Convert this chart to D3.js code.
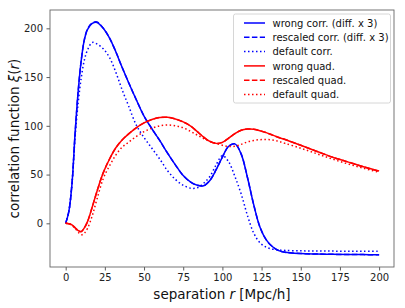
<!DOCTYPE html>
<html>
<head>
<meta charset="utf-8">
<script src="https://cdn.jsdelivr.net/npm/d3@7"></script>
<style>
  body { margin: 0; background: #fff; }
  svg { display: block; font-family: "DejaVu Sans", sans-serif; }
</style>
</head>
<body>
<div id="chart"></div>
<script>
// separation r sample points
const r = [0, 2, 4, 6, 8, 10, 12, 14, 17, 20, 24, 28, 32, 36, 40, 45, 50, 55, 60, 65, 70, 75, 80, 84, 88, 92, 96, 100, 104, 108, 112, 116, 120, 124, 128, 132, 136, 140, 150, 160, 170, 180, 190, 200];

const wrongCorr = [0, 12, 40, 92, 136, 168, 189, 199, 205, 206, 200, 190, 176, 160, 145, 127, 110, 97, 85, 72, 60, 49, 42, 39, 38.5, 44, 55, 68, 79, 81.5, 71, 47, 19, -4, -17, -24, -28, -29.7, -31, -31.5, -31.8, -32, -32.1, -32.2];
const rescaledCorr = [0, 12, 40, 92, 136, 168, 189, 199.5, 205.5, 206.5, 200, 190, 176, 160, 145, 127, 110, 97, 85, 72, 60, 49, 42, 39, 38.5, 44, 55, 68, 79, 81.5, 71, 47, 19, -4, -17, -24, -28, -29.7, -31, -31.5, -31.8, -32, -32.1, -32.2];
const defaultCorr = [0, 12, 40, 88, 124, 150, 168, 178, 185.5, 184, 179, 170, 155, 137, 121, 101, 88, 77, 66, 54, 45, 39, 36, 36.5, 41, 48, 60, 69.5, 63, 48, 30, 8, -10, -20, -24.5, -26.5, -27.3, -27.8, -28.2, -28.4, -28.5, -28.6, -28.7, -28.7];

const wrongQuad = [0, -0.5, -1.7, -4.5, -7.5, -8.3, -4.5, 2, 17, 33, 52, 66, 77.5, 85.5, 91.5, 98, 103, 106.5, 108.5, 108.8, 107, 104, 99.5, 94, 88.5, 84, 82, 83, 87.5, 92, 95.5, 96.7, 96.5, 95, 93, 90.5, 88, 86, 80, 74, 68, 63, 58, 53.6];
const rescaledQuad = [0, -0.5, -1.7, -4.5, -7.5, -8.5, -4.5, 2, 17, 33, 52, 66, 77.5, 85.5, 91.5, 98, 103, 106.5, 108.5, 108.8, 107, 104, 99.5, 94, 88.5, 84, 82, 83, 87.5, 92, 95.5, 96.7, 96.5, 95, 93, 90.5, 88, 86, 80, 74, 68, 63, 58, 53.3];
const defaultQuad = [0, -0.5, -2, -5, -9, -11.8, -10, -5, 8, 25, 46, 59, 70, 78, 83, 89, 94, 97.5, 100, 100.8, 100, 98, 94, 90.5, 87, 84, 82, 80, 78.8, 79, 81, 83.5, 85, 85.8, 86, 85.5, 84, 82, 77, 71.5, 66, 61, 56.5, 52.3];

const xTicks = [0, 25, 50, 75, 100, 125, 150, 175, 200];
const yTicks = [0, 50, 100, 150, 200];

const series = [
  { name: "wrong corr. (diff. x 3)", values: wrongCorr, color: "#0000ff", dash: null },
  { name: "rescaled corr. (diff. x 3)", values: rescaledCorr, color: "#0000ff", dash: "5.5,2.4" },
  { name: "default corr.", values: defaultCorr, color: "#0000ff", dash: "1.5,2.5" },
  { name: "wrong quad.", values: wrongQuad, color: "#ff0000", dash: null },
  { name: "rescaled quad.", values: rescaledQuad, color: "#ff0000", dash: "5.5,2.4" },
  { name: "default quad.", values: defaultQuad, color: "#ff0000", dash: "1.5,2.5" }
];

const width = 405, height = 308;
const margin = { top: 10, right: 11, bottom: 41, left: 50 };

const svg = d3.select("#chart")
  .append("svg")
  .attr("width", width)
  .attr("height", height);

const x = d3.scaleLinear()
  .domain([-10, 209.5])
  .range([margin.left, width - margin.right]);

const y = d3.scaleLinear()
  .domain([-44.8, 218.8])
  .range([height - margin.bottom, margin.top]);

const line = d3.line()
  .x(d => x(d[0]))
  .y(d => y(d[1]))
  .curve(d3.curveCatmullRom.alpha(0.5));

const plot = svg.append("g");

series.forEach(s => {
  plot.append("path")
    .datum(r.map((v, i) => [v, s.values[i]]))
    .attr("d", line)
    .attr("fill", "none")
    .attr("stroke", s.color)
    .attr("stroke-width", 1.5)
    .attr("stroke-dasharray", s.dash);
});

// axes
const xAxis = svg.append("g")
  .attr("transform", `translate(0, ${height - margin.bottom})`)
  .call(d3.axisBottom(x).tickValues(xTicks).tickSize(3.5).tickPadding(3.5));

const yAxis = svg.append("g")
  .attr("transform", `translate(${margin.left}, 0)`)
  .call(d3.axisLeft(y).tickValues(yTicks).tickSize(3.5).tickPadding(3.5));

[xAxis, yAxis].forEach(a => {
  a.select(".domain").remove();
  a.selectAll(".tick line").attr("stroke", "#333").attr("stroke-width", 0.8);
  a.selectAll(".tick text")
    .attr("font-size", "10px")
    .attr("font-family", "DejaVu Sans, sans-serif")
    .attr("fill", "#222");
});

// frame
svg.append("rect")
  .attr("x", margin.left)
  .attr("y", margin.top)
  .attr("width", width - margin.left - margin.right)
  .attr("height", height - margin.top - margin.bottom)
  .attr("fill", "none")
  .attr("stroke", "#666")
  .attr("stroke-width", 0.9);

// axis labels
const xl = svg.append("text")
  .attr("x", (margin.left + width - margin.right) / 2)
  .attr("y", 299)
  .attr("text-anchor", "middle")
  .attr("font-size", "13.5px")
  .attr("fill", "#111");
xl.append("tspan").text("separation ");
xl.append("tspan").attr("font-style", "italic").text("r");
xl.append("tspan").text(" [Mpc/h]");

const yl = svg.append("text")
  .attr("transform", `translate(19, ${(margin.top + height - margin.bottom) / 2}) rotate(-90)`)
  .attr("text-anchor", "middle")
  .attr("font-size", "13.5px")
  .attr("fill", "#111");
yl.append("tspan").text("correlation function ");
yl.append("tspan").attr("font-style", "italic").text("ξ");
yl.append("tspan").text("(");
yl.append("tspan").attr("font-style", "italic").text("r");
yl.append("tspan").text(")");

// legend
const legend = svg.append("g");
legend.append("rect")
  .attr("x", 233.5)
  .attr("y", 14)
  .attr("width", 157)
  .attr("height", 89)
  .attr("rx", 2)
  .attr("fill", "#fff")
  .attr("fill-opacity", 0.8)
  .attr("stroke", "#ccc")
  .attr("stroke-width", 0.8);

series.forEach((s, i) => {
  const ly = 23 + i * 14.3;
  legend.append("line")
    .attr("x1", 244).attr("x2", 265)
    .attr("y1", ly).attr("y2", ly)
    .attr("stroke", s.color)
    .attr("stroke-width", 1.5)
    .attr("stroke-dasharray", s.dash);
  legend.append("text")
    .attr("x", 272.5)
    .attr("y", ly + 3.6)
    .attr("font-size", "10px")
    .attr("fill", "#111")
    .text(s.name);
});
</script>
</body>
</html>
